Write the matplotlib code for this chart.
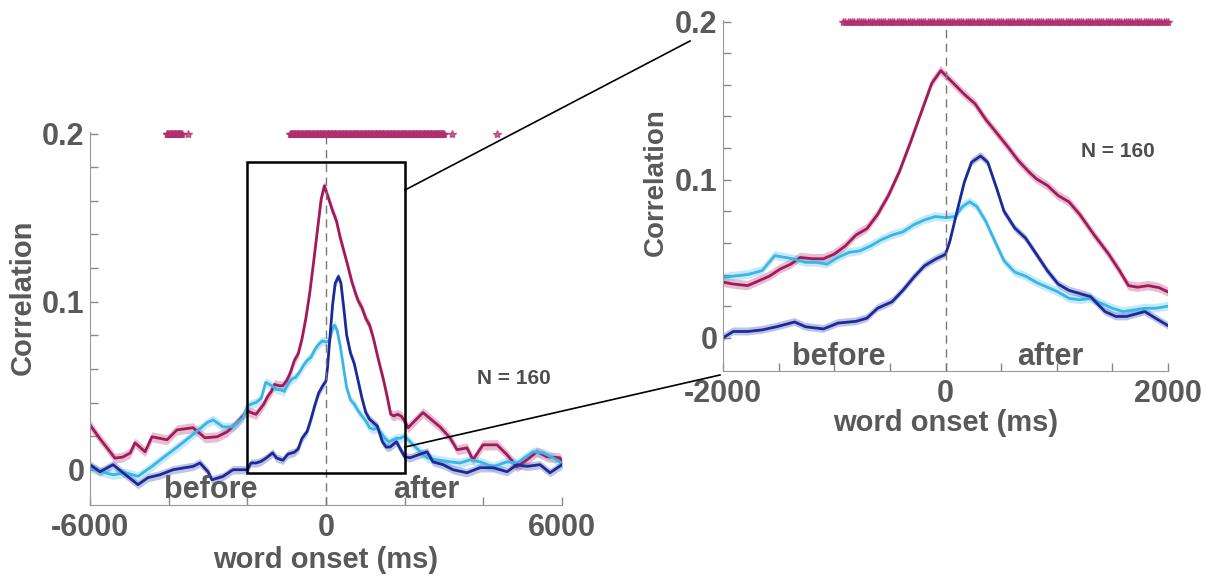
import numpy as np
import matplotlib.pyplot as plt
from matplotlib.patches import Rectangle
from matplotlib.lines import Line2D

plt.rcParams['font.family'] = ['Liberation Sans', 'DejaVu Sans']
plt.rcParams['font.weight'] = 'bold'

GRAY = '#595959'

# --- data (time in ms, correlation) ---
t_mag = [-6000, -5750, -5465, -5367, -5173, -4978, -4856, -4600, -4424, -4042, -3788, -3381, -3076,
         -2771, -2517, -2263,
         -2000, -1908, -1778, -1680, -1583, -1486, -1389, -1307, -1194, -1097, -999, -902, -805,
         -707, -610, -513, -415, -318, -221, -123, -42, 0, 71, 169, 266, 363, 461, 558, 655, 753,
         818, 915, 1012, 1109, 1207, 1337, 1466, 1564, 1645, 1726, 1823, 1920, 2000,
         2085, 2466, 2898, 3153, 3331, 3585, 3737, 3992, 4347, 4602, 4856, 5110, 5364, 5619, 5949, 6000]
r_mag = [0.0267, 0.0185, 0.0099, 0.0069, 0.0075, 0.0099, 0.016, 0.0107, 0.0196, 0.0178, 0.0237, 0.025, 0.019,
         0.0196, 0.0225, 0.0279,
         0.0352, 0.034, 0.033, 0.036, 0.039, 0.0435, 0.0466, 0.0508, 0.050, 0.050, 0.053, 0.058, 0.065,
         0.069, 0.078, 0.090, 0.105, 0.123, 0.142, 0.161, 0.169, 0.166, 0.161, 0.154, 0.148, 0.138, 0.1295,
         0.121, 0.112, 0.1047, 0.1005, 0.0964, 0.090, 0.086, 0.078, 0.065, 0.053, 0.0425, 0.033, 0.032,
         0.033, 0.0317, 0.029,
         0.025, 0.034, 0.0255, 0.019, 0.0119, 0.013, 0.0059, 0.0148, 0.0148, 0.0089, 0.0018, 0.0059,
         0.0107, 0.0077, 0.0071, 0.004]

t_light = [-6000, -5746, -5415, -5110, -4780, -4424, -4144, -3712, -3330, -3025, -2873, -2619, -2364, -2110,
           -2000, -1908, -1778, -1648, -1534, -1453, -1356, -1259, -1161, -1064, -967, -869, -772, -675,
           -577, -480, -383, -285, -188, -91, 0, 88, 152, 217, 282, 363, 444, 526, 623, 720, 818, 915,
           1012, 1109, 1207, 1304, 1401, 1499, 1596, 1693, 1791, 1888, 2000,
           2212, 2568, 2822, 3153, 3407, 3661, 3915, 4246, 4602, 4856, 5263, 5517, 5771, 6000]
r_light = [0.0012, -0.001, -0.003, -0.0018, -0.0039, 0.002, 0.0071, 0.0148, 0.022, 0.028, 0.0297, 0.0255,
           0.0255, 0.031,
           0.038, 0.039, 0.040, 0.0425, 0.052, 0.051, 0.0497, 0.0477, 0.0477, 0.0466, 0.0508, 0.054, 0.055,
           0.058, 0.062, 0.065, 0.067, 0.0715, 0.0746, 0.0767, 0.076, 0.0767, 0.083, 0.086, 0.083, 0.0736,
           0.061, 0.0487, 0.0415, 0.039, 0.035, 0.032, 0.029, 0.025, 0.024, 0.025, 0.0218, 0.0187, 0.0166,
           0.0176, 0.0187, 0.0187, 0.020,
           0.0148, 0.0071, 0.0059, 0.0047, 0.004, 0.0059, 0.0047, 0.0018, 0.0047, 0.004, 0.0107, 0.010,
           0.0071, 0.004]

t_dark = [-6000, -5746, -5415, -5161, -4780, -4525, -4220, -3890, -3381, -3203, -3000, -2898, -2619, -2364,
          -2000, -1908, -1778, -1648, -1518, -1356, -1259, -1097, -967, -805, -707, -610, -480, -383, -285,
          -188, -91, 0, 39, 104, 169, 234, 315, 380, 461, 526, 623, 720, 818, 915, 1012, 1109, 1207, 1304,
          1434, 1531, 1629, 1791, 1888, 2000,
          2136, 2568, 2720, 2975, 3229, 3585, 3915, 4246, 4602, 4856, 5110, 5441, 5695, 6000]
r_dark = [0.003, -0.0012, 0.003, -0.0018, -0.0089, -0.0047, -0.003, 0.0, 0.002, 0.004, -0.0012, -0.006,
          -0.004, 0.0,
          0.0, 0.004, 0.004, 0.005, 0.007, 0.010, 0.007, 0.0056, 0.0093, 0.0104, 0.0124, 0.0187, 0.0228,
          0.030, 0.0383, 0.0456, 0.0497, 0.0528, 0.061, 0.080, 0.0984, 0.111, 0.115, 0.111, 0.0943, 0.080,
          0.0694, 0.063, 0.0528, 0.0425, 0.034, 0.030, 0.028, 0.026, 0.0166, 0.0135, 0.0135, 0.0166,
          0.0124, 0.0077,
          0.0071, 0.0107, 0.0047, 0.003, 0.0, -0.0018, 0.0012, 0.0012, -0.0012, 0.003, 0.002, 0.003,
          -0.0018, 0.003]

sem = {'mag': 0.003, 'light': 0.0028, 'dark': 0.0025}
colors = {'mag': '#A3195B', 'light': '#38B6E8', 'dark': '#1B2A9A'}

# significant time windows (ms)
sig_windows = [(-4050, -3670), (-3520, -3520), (-920, 3000), (3200, 3200), (4340, 4340)]
sig_t = np.concatenate([np.arange(a, b + 1, 20) for a, b in sig_windows])

series = [('mag', t_mag, r_mag), ('light', t_light, r_light), ('dark', t_dark, r_dark)]


def draw_panel(ax, xlim, xticks, xlabels, before_x, after_x, label_y, n_xy):
    for key, t, r in series:
        t = np.array(t)
        r = np.array(r)
        ax.fill_between(t, r - sem[key], r + sem[key], color=colors[key], alpha=0.28, lw=0)
        ax.plot(t, r, color=colors[key], lw=2)
    ax.axvline(0, color='#777777', lw=1, ls=(0, (6, 4)))
    st = sig_t[(sig_t >= xlim[0]) & (sig_t <= xlim[1])]
    ax.plot(st, np.full(len(st), 0.2), ls='none', marker='*', ms=6, color='#B0306F', alpha=0.75,
            clip_on=False)
    ax.set_xlim(xlim)
    ax.set_ylim(-0.021, 0.201)
    yt = np.arange(0, 0.2001, 0.02)
    ax.set_yticks(yt)
    ax.set_yticklabels(['0', '', '', '', '', '0.1', '', '', '', '', '0.2'])
    ax.set_xticks(xticks)
    ax.set_xticklabels(xlabels)
    ax.tick_params(direction='in', length=6, width=1, color='#888888', labelcolor=GRAY, labelsize=22)
    ax.tick_params(axis='x', pad=6)
    ax.tick_params(axis='y', pad=4)
    for s in ['top', 'right']:
        ax.spines[s].set_visible(False)
    for s in ['left', 'bottom']:
        ax.spines[s].set_color('#999999')
    ax.text(before_x, -0.012, 'before', ha='center', va='center', fontsize=22, color=GRAY)
    ax.text(after_x, -0.012, 'after', ha='center', va='center', fontsize=22, color=GRAY)
    ax.text(n_xy[0], n_xy[1], 'N = 160', ha='center', va='center', fontsize=15, color='#4d4d4d')
    ax.text(0.5, label_y, 'word onset (ms)', transform=ax.transAxes, ha='center', va='center',
            fontsize=21, color=GRAY)


fig = plt.figure(figsize=(12.05, 5.76), dpi=100)
ax1 = fig.add_axes([90 / 1205, 1 - 505 / 576, 472 / 1205, 373 / 576])
ax2 = fig.add_axes([723 / 1205, 1 - 371 / 576, 445 / 1205, 351 / 576])

draw_panel(ax1, (-6000, 6000), np.arange(-6000, 6001, 2000), ['-6000', '', '', '0', '', '', '6000'],
           -2924, 2542, -0.1475, (4780, 0.054))
draw_panel(ax2, (-2000, 2000), np.arange(-2000, 2001, 500),
           ['-2000', '', '', '', '0', '', '', '', '2000'], -957, 939, -0.148, (1551, 0.118))

fig.text(23 / 1205, 1 - 297 / 576, 'Correlation', rotation=90, ha='center', va='center', fontsize=21,
         color=GRAY)
fig.text(656 / 1205, 1 - 182 / 576, 'Correlation', rotation=90, ha='center', va='center', fontsize=20,
         color=GRAY)

# zoom box and connector lines
ax1.add_patch(Rectangle((-2000, -0.002), 4000, 0.1854, fill=False, ec='black', lw=1.8, zorder=5))
for (x0, y0), (x1, y1) in [((405, 190), (690, 41)), ((405, 447), (720, 375))]:
    fig.add_artist(Line2D([x0 / 1205, x1 / 1205], [1 - y0 / 576, 1 - y1 / 576], color='black', lw=1.2,
                          transform=fig.transFigure))

fig.savefig('out.png', dpi=100)
